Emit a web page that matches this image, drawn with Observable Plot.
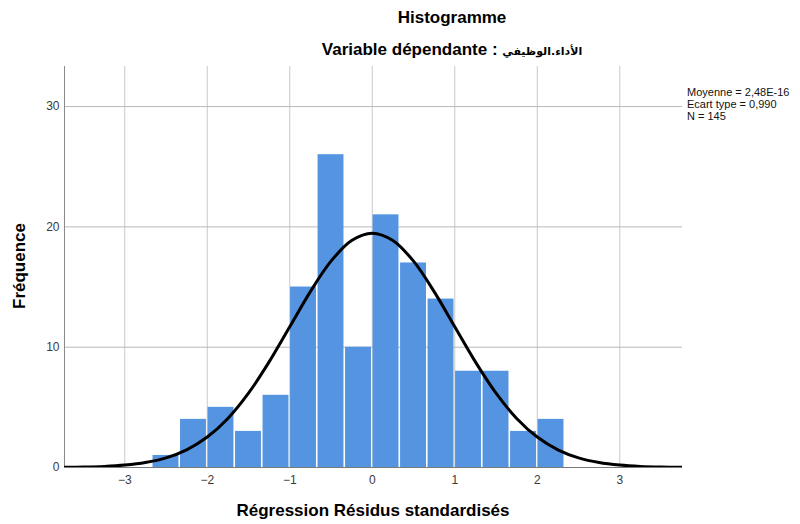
<!DOCTYPE html>
<html>
<head>
<meta charset="utf-8">
<script src="https://cdn.jsdelivr.net/npm/d3@7"></script>
<script src="https://cdn.jsdelivr.net/npm/@observablehq/plot@0.6"></script>
<style>
  html, body { margin: 0; padding: 0; background: #fff; }
  #wrap { position: relative; width: 800px; height: 524px; font-family: "Liberation Sans", Arial, "DejaVu Sans", sans-serif; }
  .t { position: absolute; white-space: nowrap; color: #000; }
</style>
</head>
<body>
<div id="wrap"></div>
<script>
// ---- data ----
const binLower = [-8/3, -7/3, -2, -5/3, -4/3, -1, -2/3, -1/3, 0, 1/3, 2/3, 1, 4/3, 5/3, 2];
const binUpper = [-7/3, -2, -5/3, -4/3, -1, -2/3, -1/3, 0, 1/3, 2/3, 1, 4/3, 5/3, 2, 7/3];
const counts   = [1, 4, 5, 3, 6, 15, 26, 10, 21, 17, 14, 8, 8, 3, 4];

// fitted normal curve
const curveX = [-3.75, -3.5, -3.25, -3, -2.75, -2.5, -2.25, -2, -1.75, -1.5, -1.25, -1, -0.75, -0.5, -0.25, 0,
                0.25, 0.5, 0.75, 1, 1.25, 1.5, 1.75, 2, 2.25, 2.5, 2.75, 3, 3.25, 3.5, 3.75];
const curveY = [0.02, 0.04, 0.09, 0.2, 0.41, 0.8, 1.47, 2.53, 4.08, 6.18, 8.78, 11.7, 14.62, 17.15, 18.87, 19.48,
                18.87, 17.15, 14.62, 11.7, 8.78, 6.18, 4.08, 2.53, 1.47, 0.8, 0.41, 0.2, 0.09, 0.04, 0.02];

const xTicks = [-3, -2, -1, 0, 1, 2, 3];
const yTicks = [0, 10, 20, 30];

const title = "Histogramme";
const subtitleLatin = "Variable dépendante : ";
const subtitleArabic = "الأداء.الوظيفي";
const xLabel = "Régression Résidus standardisés";
const yLabel = "Fréquence";
const statsLines = ["Moyenne = 2,48E-16", "Ecart type = 0,990", "N = 145"];

// ---- build ----
const bins = counts.map((c, i) => ({x1: binLower[i], x2: binUpper[i], y: c}));
const curve = curveX.map((x, i) => ({x, y: curveY[i]}));
const xDomain = [-3.73, 3.76];

const chart = Plot.plot({
  width: 800,
  height: 524,
  marginLeft: 64,
  marginRight: 118,
  marginTop: 66,
  marginBottom: 57,
  style: {fontFamily: '"Liberation Sans", Arial, sans-serif', background: "white"},
  x: {domain: xDomain},
  y: {domain: [0, 33.33]},
  marks: [
    Plot.gridX(xTicks, {stroke: "#c9c9c9", strokeOpacity: 1, strokeWidth: 1}),
    Plot.gridY(yTicks.filter(d => d > 0), {stroke: "#b9b9b9", strokeOpacity: 1, strokeWidth: 1}),
    Plot.rectY(bins, {x1: "x1", x2: "x2", y: "y", fill: "#5594e0", insetLeft: 0.8, insetRight: 0.8}),
    Plot.ruleX([xDomain[0]], {stroke: "#8a8a8a", strokeWidth: 1}),
    Plot.ruleY([0], {stroke: "#7a7a7a", strokeWidth: 1}),
    Plot.line(curve, {x: "x", y: "y", stroke: "#000", strokeWidth: 3, curve: "catmull-rom", clip: true}),
    Plot.axisX(xTicks, {tickSize: 0, tickPadding: 8, fontSize: 12, fill: "#3a3a3a", label: null}),
    Plot.axisY(yTicks, {tickSize: 0, tickPadding: 5, fontSize: 12, fill: "#3a3a3a", label: null})
  ]
});

const wrap = document.getElementById("wrap");
wrap.appendChild(chart);

function addText(txt, css) {
  const d = document.createElement("div");
  d.className = "t";
  d.textContent = txt;
  Object.assign(d.style, css);
  wrap.appendChild(d);
  return d;
}
addText(title, {left: "0px", width: "904px", textAlign: "center", top: "8px", fontSize: "17px", fontWeight: "bold", lineHeight: "20px"});
const sub = addText("", {left: "0px", width: "904px", textAlign: "center", top: "40px", fontSize: "17px", fontWeight: "bold", lineHeight: "20px"});
sub.appendChild(document.createTextNode(subtitleLatin));
const ar = document.createElement("span");
ar.textContent = subtitleArabic;
Object.assign(ar.style, {fontFamily: '"DejaVu Sans", sans-serif', fontSize: "11px", fontWeight: "bold"});
ar.dir = "rtl";
sub.appendChild(ar);
addText(xLabel, {left: "0px", width: "746px", textAlign: "center", top: "501px", fontSize: "17px", fontWeight: "bold", lineHeight: "20px"});
addText(yLabel, {left: "20px", top: "266px", fontSize: "17px", fontWeight: "bold", lineHeight: "20px",
  transform: "translate(-50%, -50%) rotate(-90deg)"});
statsLines.forEach((s, i) => {
  addText(s, {left: "687px", top: (86 + i * 12) + "px", fontSize: "11px", lineHeight: "12px", color: "#111"});
});
</script>
</body>
</html>
